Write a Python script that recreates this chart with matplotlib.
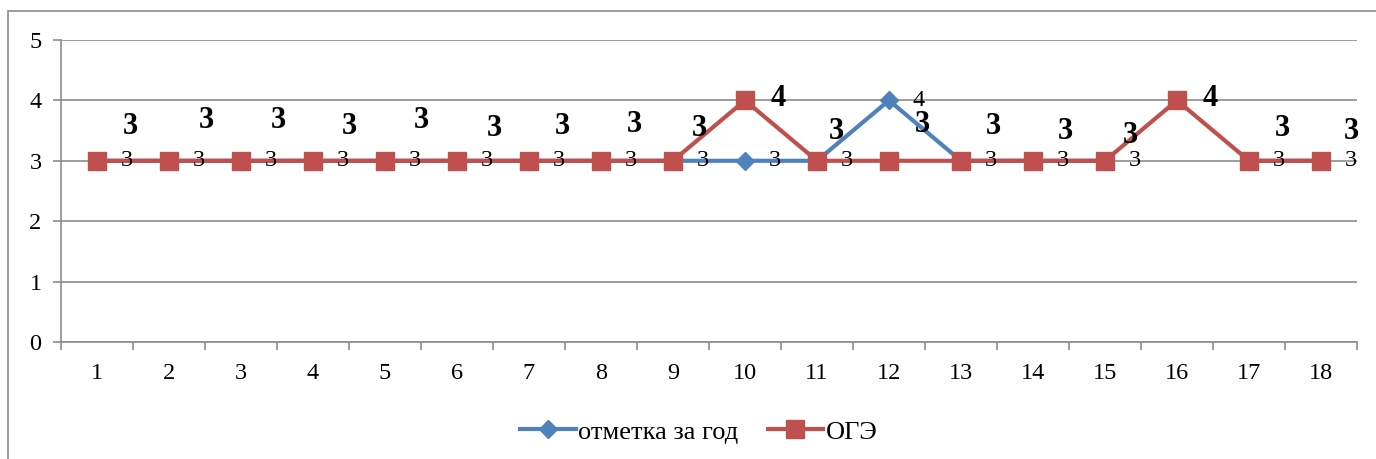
import matplotlib.pyplot as plt
import numpy as np
from matplotlib.patches import Rectangle

plt.rcParams["font.family"] = ["Liberation Serif", "DejaVu Serif"]

# данные (у 16-го ученика нет годовой отметки)
students = list(range(1, 19))
year_mark = [3, 3, 3, 3, 3, 3, 3, 3, 3, 3, 3, 4, 3, 3, 3, np.nan, 3, 3]
oge = [3, 3, 3, 3, 3, 3, 3, 3, 3, 4, 3, 3, 3, 3, 3, 4, 3, 3]
series_names = ["отметка за год", "ОГЭ"]

# сдвиг жирных подписей ОГЭ (в пунктах), как их расставил Excel
oge_label_dy = [25, 29, 29, 25, 29, 23, 25, 26, 23, 1, 21, 26, 25, 21, 18, 1, 23, 21]
oge_label_dx = [24, 27, 27, 26, 26, 27, 24, 24, 19, 24, 14, 24, 23, 23, 18, 24, 24, 22]

blue = "#4F81BD"
red = "#C0504D"
grid = "#8C8C8C"

fig = plt.figure(figsize=(13.76, 4.59), dpi=100)
ax = fig.add_axes([0.0443, 0.2549, 0.9419, 0.658])

# рамка диаграммы
fig.patches.append(Rectangle((8 / 1376, -0.1), 1.2, 1.1 - 11 / 459,
                             transform=fig.transFigure, fill=False,
                             edgecolor=grid, linewidth=1.2))

x = list(range(len(students)))
ax.plot(x, year_mark, color=blue, lw=3, marker="D", markersize=9,
        label=series_names[0], zorder=3)
ax.plot(x, oge, color=red, lw=3, marker="s", markersize=13,
        label=series_names[1], zorder=4)

for i, v in enumerate(year_mark):
    if np.isnan(v):
        continue
    ax.annotate(str(int(v)), (i, v), xytext=(17, 0), textcoords="offset points",
                ha="left", va="center", fontsize=17.5, zorder=6)
for i, v in enumerate(oge):
    ax.annotate(str(v), (i, v), xytext=(oge_label_dx[i], oge_label_dy[i]),
                textcoords="offset points", ha="center", va="center",
                fontsize=22, fontweight="bold", zorder=6)

ax.set_xlim(-0.5, len(students) - 0.5)
ax.set_ylim(0, 5)
ax.set_yticks(range(0, 6))
ax.yaxis.grid(True, color=grid, lw=1.2)
ax.set_axisbelow(True)

ax.set_xticks([i - 0.5 for i in range(len(students) + 1)], minor=False)
ax.set_xticklabels([])
ax.set_xticks(x, minor=True)
ax.set_xticklabels([str(s) for s in students], minor=True)
ax.tick_params(axis="x", which="major", length=6, color=grid, width=1.2)
ax.tick_params(axis="x", which="minor", length=0, pad=15, labelsize=17.5)
ax.tick_params(axis="y", length=6, color=grid, width=1.2, labelsize=17.5, pad=8)

for side in ["top", "right"]:
    ax.spines[side].set_visible(False)
for side in ["left", "bottom"]:
    ax.spines[side].set_color(grid)
    ax.spines[side].set_linewidth(1.2)

fig.legend(loc="center", bbox_to_anchor=(0.508, 0.059), ncol=2, frameon=False,
           fontsize=19, handlelength=2.1, handletextpad=0.1, columnspacing=1.1)

fig.savefig("out.png", dpi=100)
